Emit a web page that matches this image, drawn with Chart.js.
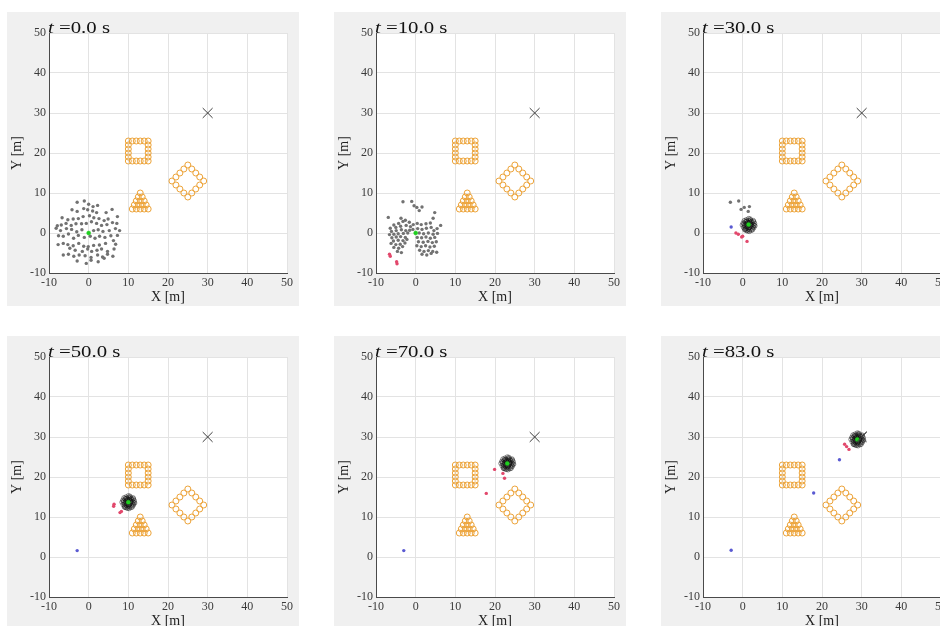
<!DOCTYPE html>
<html>
<head>
<meta charset="utf-8">
<title>Swarm snapshots</title>
<script src="https://cdn.jsdelivr.net/npm/chart.js@4"></script>
<style>
    body { margin: 0; width: 940px; height: 626px; background: #fff; overflow: hidden; position: relative; font-family: 'Liberation Serif', serif; }
    .panel { position: absolute; width: 292px; height: 294px; background: #f0f0f0; }
    .panel canvas { position: absolute; left: 0; top: 0; }
    .ttl { position: absolute; left: 41px; top: 7px; font-size: 16px; color: #111; white-space: nowrap; transform: scaleX(1.3); transform-origin: left top; }
</style>
</head>
<body>
<div id="root"></div>
<script>
// axis ticks (both axes)
const axisTicks = [-10, 0, 10, 20, 30, 40, 50];
const snapshotTimes = ['0.0', '10.0', '30.0', '50.0', '70.0', '83.0'];

// fixed obstacles (orange rings) and goal
const squareObs = [[10,23],[11,23],[12,23],[13,23],[14,23],[15,23],[10,18],[11,18],[12,18],[13,18],[14,18],[15,18],
    [10,19],[10,20],[10,21],[10,22],[15,19],[15,20],[15,21],[15,22]];
const triangleObs = [[11,6],[12,6],[13,6],[14,6],[15,6],[11.5,7],[12.5,7],[13.5,7],[14.5,7],[12,8],[13,8],[14,8],
    [12.5,9],[13.5,9],[13,10]];
const diamondObs = [[25,17],[26,16],[27,15],[28,14],[29,13],[28,12],[27,11],[26,10],[25,9],[24,10],[23,11],[22,12],
    [21,13],[22,14],[23,15],[24,16]];
const goal = [[30,30]];

// t = 0 s : initial agents
const agents0 = [[-2.9,7.7],[-1.1,8.0],[0.0,7.2],[-4.2,5.8],[-2.9,5.4],[-1.25,6.1],[1.1,6.6],[2.25,6.9],[-0.25,5.8],
    [1.0,5.5],[2.0,5.1],[4.4,5.1],[5.9,5.9],[-6.7,3.8],[-5.25,3.3],[-3.9,3.5],[-2.6,3.6],[-1.4,4.1],[0.2,4.3],[1.3,3.8],
    [2.6,3.6],[3.9,3.1],[4.9,3.5],[7.25,4.1],[-7.9,1.8],[-6.9,2.0],[-5.7,2.4],[-4.4,1.9],[-3.2,2.3],[-1.8,2.3],[-0.6,2.4],
    [0.7,2.8],[2.0,2.4],[3.25,1.9],[4.6,2.1],[6.0,2.6],[7.1,2.4],[-8.2,1.2],[-7.1,0.6],[-5.6,1.1],[-4.3,0.9],[-3.0,0.3],
    [-1.7,0.8],[1.25,0.6],[2.4,0.8],[3.6,0.4],[5.2,0.6],[6.75,1.1],[7.8,0.6],[-7.6,-0.7],[-6.4,-0.8],[-5.1,-0.25],
    [-3.8,-1.3],[-2.6,-0.6],[-1.1,-1.1],[0.4,-0.8],[1.6,-1.3],[2.75,-0.8],[4.1,-1.1],[5.6,-0.7],[7.25,-0.6],[-7.7,-2.9],
    [-6.4,-2.6],[-5.25,-2.9],[-3.9,-3.2],[-2.5,-2.6],[-1.25,-3.3],[-0.1,-3.4],[1.25,-3.1],[2.7,-3.0],[4.25,-2.6],[6.25,-1.9],
    [6.8,-2.8],[-4.75,-3.8],[-3.4,-4.3],[-1.6,-4.6],[-0.25,-4.0],[0.75,-4.6],[2.1,-4.3],[3.25,-4.0],[4.75,-4.6],[6.4,-4.0],
    [-6.4,-5.5],[-5.1,-5.3],[-3.75,-5.8],[-2.4,-5.5],[-0.9,-5.7],[0.6,-6.1],[2.25,-5.5],[3.5,-6.0],[4.75,-5.3],[6.1,-5.8],
    [-2.9,-7.0],[-0.6,-7.6],[0.6,-6.8],[2.4,-7.2],[3.9,-6.3]];

// t = 10 s
const agents10 = [[-6.9,3.9],[-3.7,3.7],[-2.6,3.2],[-1.6,2.7],[-3.2,2.9],[-4.3,2.4],[-5.5,2.0],[-6.4,1.2],[-5.0,1.4],
    [-3.8,1.7],[-2.4,1.9],[-1.3,1.6],[-0.6,2.1],[-6.1,0.4],[-4.9,0.6],[-3.6,0.8],[-2.5,0.6],[-1.5,0.7],[-0.7,0.9],
    [-6.6,-0.4],[-5.5,-0.3],[-4.4,-0.2],[-3.1,-0.1],[-2.0,0.0],[-6.0,-1.2],[-4.9,-1.0],[-3.8,-0.9],[-2.6,-1.1],[-5.6,-2.0],
    [-4.4,-1.8],[-3.2,-1.9],[-6.2,-2.6],[-5.0,-2.9],[-3.9,-2.8],[-2.7,-2.5],[-5.5,-3.6],[-4.3,-3.8],[-3.3,-3.4],[-4.6,-4.6],
    [-3.6,-4.9],[-2.2,-1.6],[-3.2,7.8],[-1.0,7.9],[-0.4,6.8],[0.3,6.4],[1.6,6.5],[0.9,5.6],[4.8,5.1],[4.4,3.7],[6.3,1.9],
    [5.4,1.1],[3.7,2.5],[2.6,2.3],[1.4,2.1],[0.4,2.4],[0.5,1.1],[1.6,0.9],[2.7,1.2],[3.9,1.4],[4.6,0.6],[0.9,0.0],[2.0,-0.2],
    [3.2,0.0],[4.4,-0.3],[5.5,-0.1],[0.4,-1.1],[1.5,-1.2],[2.6,-1.0],[3.7,-1.3],[4.8,-1.1],[0.7,-2.2],[1.9,-2.3],[3.1,-2.1],
    [4.2,-2.4],[5.2,-2.2],[0.3,-3.2],[1.4,-3.4],[2.5,-3.2],[3.6,-3.5],[4.7,-3.3],[1.0,-4.3],[2.1,-4.6],[3.2,-4.4],[4.3,-4.6],
    [5.3,-4.8],[1.6,-5.3],[2.8,-5.5],[3.9,-5.1]];
const red10 = [[-6.6,-5.3],[-6.4,-5.8],[-4.8,-7.2],[-4.7,-7.7]];

// t = 30 s
const swarm30 = [[1.5,2.0],[2.1,2.3],[1.0,2.4],[1.8,1.4],[1.1,1.5],[2.6,2.1],[0.4,1.9],[1.6,3.1],[1.4,0.9],[2.3,2.9],
    [0.7,2.8],[2.4,1.2],[0.6,1.1],[3.0,2.4],[0.1,2.5],[1.9,3.5],[1.0,0.6],[2.8,1.3],[0.2,1.4],[2.2,0.7],[0.9,3.3],[3.1,1.8],
    [-0.1,2.0],[1.5,3.6],[1.7,0.4],[2.7,3.1],[0.4,3.1],[2.5,0.8],[0.5,0.8],[1.9,2.8],[1.2,1.8],
    [1.3,2.6],[2.0,1.8],[0.8,2.1],[1.6,1.2],[2.4,2.6],[0.6,1.6],[1.2,3.0],[2.0,3.2],[2.9,1.9],[0.3,2.3],
    [1.8,0.8],[1.0,1.2],[2.6,1.6],[1.4,2.3],[0.9,2.9],[2.2,2.0],[1.7,2.6],[0.7,0.9],[2.8,2.8],[1.3,0.5]];
const gray30 = [[-3.1,7.7],[-1.0,8.0],[-0.4,5.9],[0.4,6.4],[1.7,6.6],[1.4,5.4]];
const red30 = [[-1.7,0.0],[-1.1,-0.3],[-0.25,-1.0],[0.0,-0.8],[1.1,-2.1]];
const blue30 = [[-2.9,1.5]];

// t = 50 s
const swarm50 = [[10.0,13.7],[10.6,14.0],[9.5,14.1],[10.3,13.1],[9.6,13.2],[11.1,13.8],[8.9,13.6],[10.1,14.8],[9.9,12.6],
    [10.8,14.6],[9.2,14.5],[10.9,12.9],[9.1,12.8],[11.5,14.1],[8.6,14.2],[10.4,15.2],[9.5,12.3],[11.3,13.0],[8.7,13.1],
    [10.7,12.4],[9.4,15.0],[11.6,13.5],[8.4,13.7],[10.0,15.3],[10.2,12.1],[11.2,14.8],[8.9,14.8],[11.0,12.5],[9.0,12.5],
    [10.4,14.5],[9.7,13.5],
    [9.8,14.3],[10.5,13.5],[9.3,13.8],[10.1,12.9],[10.9,14.3],[9.1,13.3],[9.7,14.7],[10.5,14.9],[11.4,13.6],[8.8,14.0],
    [10.3,12.5],[9.5,12.9],[11.1,13.3],[9.9,14.0],[9.4,14.6],[10.7,13.7],[10.2,14.3],[9.2,12.4],[11.3,14.5],[9.8,12.2]];
const red50 = [[6.4,13.2],[6.3,12.7],[7.9,11.1],[8.25,11.4]];
const blue50 = [[-2.9,1.6]];

// t = 70 s
const swarm70 = [[23.1,23.4],[23.7,23.7],[22.6,23.8],[23.4,22.8],[22.7,22.9],[24.2,23.5],[22.0,23.3],[23.2,24.5],[23.0,22.3],
    [23.9,24.3],[22.3,24.2],[24.0,22.6],[22.2,22.5],[24.6,23.8],[21.7,23.9],[23.5,24.9],[22.6,22.0],[24.4,22.7],[21.8,22.8],
    [23.8,22.1],[22.5,24.7],[24.7,23.2],[21.5,23.4],[23.1,25.0],[23.3,21.8],[24.3,24.5],[22.0,24.5],[24.1,22.2],[22.1,22.2],
    [23.5,24.2],[22.8,23.2],
    [22.9,24.0],[23.6,23.2],[22.4,23.5],[23.2,22.6],[24.0,24.0],[22.2,23.0],[22.8,24.4],[23.6,24.6],[24.5,23.3],[21.9,23.7],
    [23.4,22.2],[22.6,22.6],[24.2,23.0],[23.0,23.7],[22.5,24.3],[23.8,23.4],[23.3,24.0],[22.3,22.1],[24.4,24.2],[22.9,21.9]];
const red70 = [[19.9,21.9],[22.0,20.9],[22.4,19.7],[17.8,15.9]];
const blue70 = [[-3.0,1.6]];

// t = 83 s
const swarm83 = [[28.9,29.4],[29.5,29.7],[28.4,29.8],[29.2,28.8],[28.5,28.9],[30.0,29.5],[27.8,29.3],[29.0,30.5],[28.8,28.3],
    [29.7,30.3],[28.1,30.2],[29.8,28.6],[28.0,28.5],[30.4,29.8],[27.5,29.9],[29.3,30.9],[28.4,28.0],[30.2,28.7],[27.6,28.8],
    [29.6,28.1],[28.3,30.7],[30.5,29.2],[27.3,29.4],[28.9,31.0],[29.1,27.8],[30.1,30.5],[27.8,30.5],[29.9,28.2],[27.9,28.2],
    [29.3,30.2],[28.6,29.2],
    [28.7,30.0],[29.4,29.2],[28.2,29.5],[29.0,28.6],[29.8,30.0],[28.0,29.0],[28.6,30.4],[29.4,30.6],[30.3,29.3],[27.7,29.7],
    [29.2,28.2],[28.4,28.6],[30.0,29.0],[28.8,29.7],[28.3,30.3],[29.6,29.4],[29.1,30.0],[28.1,28.1],[30.2,30.2],[28.7,27.9]];
const heading83 = [[30.2,30.3],[31.3,31.3]];
const red83 = [[25.7,28.2],[26.2,27.6],[26.8,26.9]];
const blue83 = [[-2.9,1.7],[24.4,24.3],[17.9,16.0]];

// leader position per snapshot
const leaders = [[0,0],[0,0],[1.5,2.1],[10.0,13.7],[23.1,23.4],[28.9,29.4]];

const panels = [
    { gray: agents0, swarm: [], red: [], blue: [], heading: [] },
    { gray: agents10, swarm: [], red: red10, blue: [], heading: [] },
    { gray: gray30, swarm: swarm30, red: red30, blue: blue30, heading: [] },
    { gray: [], swarm: swarm50, red: red50, blue: blue50, heading: [] },
    { gray: [], swarm: swarm70, red: red70, blue: blue70, heading: [] },
    { gray: [], swarm: swarm83, red: red83, blue: blue83, heading: heading83 }
];
const boxPos = [[7,12],[334,12],[661,12],[7,336],[334,336],[661,336]];

const SERIF = "'Liberation Serif', 'Times New Roman', serif";
const pts = arr => arr.map(p => ({ x: p[0], y: p[1] }));

const plotBg = {
    id: 'plotBg',
    beforeDraw(chart) {
        const { ctx, chartArea: a } = chart;
        ctx.save();
        ctx.fillStyle = '#ffffff';
        ctx.fillRect(a.left, a.top, a.right - a.left, a.bottom - a.top);
        ctx.restore();
    }
};

function axis(label, isX) {
    return {
        type: 'linear',
        min: axisTicks[0],
        max: axisTicks[axisTicks.length - 1],
        afterBuildTicks: s => { s.ticks = axisTicks.map(v => ({ value: v })); },
        ticks: { font: { family: SERIF, size: 12 }, color: '#3a3a3a', padding: 3, maxRotation: 0 },
        grid: { color: '#e3e3e3', drawTicks: false },
        border: { color: '#4a4a4a', width: 1 },
        title: { display: true, text: label, font: { family: SERIF, size: 14 }, color: '#222',
                 padding: isX ? { top: 0, bottom: 0 } : { top: 2, bottom: 0 } },
        afterFit: s => { if (isX) s.height = 33; else s.width = 42; }
    };
}

const root = document.getElementById('root');
panels.forEach((p, i) => {
    const box = document.createElement('div');
    box.className = 'panel';
    box.style.left = boxPos[i][0] + 'px';
    box.style.top = boxPos[i][1] + 'px';
    const cv = document.createElement('canvas');
    cv.width = 292; cv.height = 294;
    box.appendChild(cv);
    const ttl = document.createElement('div');
    ttl.className = 'ttl';
    ttl.innerHTML = '<i>t</i> =' + snapshotTimes[i] + ' s';
    box.appendChild(ttl);
    root.appendChild(box);

    new Chart(cv.getContext('2d'), {
        type: 'scatter',
        data: {
            datasets: [
                { data: pts(goal), pointStyle: 'crossRot', pointRadius: 7, borderColor: '#3c3c3c', borderWidth: 1 },
                { data: pts([leaders[i]]), pointRadius: 2, backgroundColor: '#1fcf1f', borderColor: '#1fcf1f', borderWidth: 0.5 },
                { data: pts(p.heading), showLine: true, pointRadius: 0, borderColor: '#222', borderWidth: 1 },
                { data: pts(p.blue), pointRadius: 1.7, backgroundColor: '#5a5ad2', borderWidth: 0 },
                { data: pts(p.red), pointRadius: 1.7, backgroundColor: '#e2486c', borderWidth: 0 },
                { data: pts(p.swarm), pointRadius: 2.2, backgroundColor: 'rgba(0,0,0,0)', borderColor: 'rgba(15,15,15,0.6)', borderWidth: 0.8 },
                { data: pts(p.gray), pointRadius: 1.7, backgroundColor: '#727272', borderWidth: 0 },
                { data: pts(squareObs.concat(triangleObs, diamondObs)), pointRadius: 3, backgroundColor: 'rgba(0,0,0,0)', borderColor: '#eda43a', borderWidth: 1 }
            ]
        },
        options: {
            responsive: false,
            animation: false,
            devicePixelRatio: 1,
            layout: { padding: { top: 21, right: 12, left: 0, bottom: 0 } },
            scales: { x: axis('X [m]', true), y: axis('Y [m]', false) },
            plugins: { legend: { display: false }, tooltip: { enabled: false } }
        },
        plugins: [plotBg]
    });
});
</script>
</body>
</html>
